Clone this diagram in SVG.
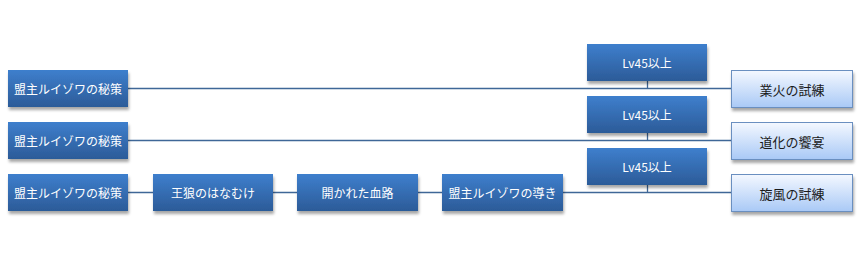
<svg xmlns="http://www.w3.org/2000/svg" width="858" height="255" viewBox="0 0 858 255">
<style>
.b{fill:url(#gb);filter:url(#sh)}
.l{fill:url(#gl);stroke:#6b8fc0;stroke-width:1;filter:url(#sh)}
.tw{fill:#ffffff;font-family:"Noto Sans CJK JP","Noto Sans",sans-serif;font-size:12px;text-anchor:middle;dominant-baseline:central}
.tk{fill:#1a1a1a;font-family:"Noto Sans CJK JP","Noto Sans",sans-serif;font-size:13px;text-anchor:middle;dominant-baseline:central}
.c{fill:none;stroke:#3f6797;stroke-width:1.3}
</style>
<defs>
<linearGradient id="gb" x1="0" y1="0" x2="0" y2="1">
<stop offset="0" stop-color="#3e7fcd"/>
<stop offset="1" stop-color="#2c5b98"/>
</linearGradient>
<linearGradient id="gl" x1="0" y1="0" x2="0" y2="1">
<stop offset="0" stop-color="#f4f8ff"/>
<stop offset="1" stop-color="#a9c9f6"/>
</linearGradient>
<filter id="sh" x="-10%" y="-20%" width="120%" height="150%">
<feGaussianBlur in="SourceAlpha" stdDeviation="1.5"/>
<feOffset dx="1" dy="2.5" result="o"/>
<feComponentTransfer><feFuncA type="linear" slope="0.35"/></feComponentTransfer>
<feMerge><feMergeNode/><feMergeNode in="SourceGraphic"/></feMerge>
</filter>
</defs>
<g id="connectors">
<path class="c" d="M128 88.5H731"/>
<path class="c" d="M647.5 81V88.5"/>
<path class="c" d="M128 140.5H731"/>
<path class="c" d="M647.5 133V140.5"/>
<path class="c" d="M128 192.5H731"/>
<path class="c" d="M647.5 185V192.5"/>
</g>
<g id="n1"><rect class="b" x="8" y="70" width="120" height="37"/><text class="tw" x="68" y="88.5">盟主ルイゾワの秘策</text></g>
<g id="n2"><rect class="b" x="8" y="122" width="120" height="37"/><text class="tw" x="68" y="140.5">盟主ルイゾワの秘策</text></g>
<g id="n3"><rect class="b" x="8" y="174" width="120" height="37"/><text class="tw" x="68" y="192.5">盟主ルイゾワの秘策</text></g>
<g id="n4"><rect class="b" x="153" y="174" width="120" height="37"/><text class="tw" x="213" y="192.5">王狼のはなむけ</text></g>
<g id="n5"><rect class="b" x="297" y="174" width="121" height="37"/><text class="tw" x="357.5" y="192.5">開かれた血路</text></g>
<g id="n6"><rect class="b" x="442" y="174" width="121" height="37"/><text class="tw" x="502.5" y="192.5">盟主ルイゾワの導き</text></g>
<g id="n7"><rect class="b" x="587" y="44" width="120" height="37"/><text class="tw" x="647" y="62.5">Lv45以上</text></g>
<g id="n8"><rect class="b" x="587" y="96" width="120" height="37"/><text class="tw" x="647" y="114.5">Lv45以上</text></g>
<g id="n9"><rect class="b" x="587" y="148" width="120" height="37"/><text class="tw" x="647" y="166.5">Lv45以上</text></g>
<g id="n10"><rect class="l" x="731.5" y="70.5" width="121" height="37"/><text class="tk" x="792" y="89">業火の試練</text></g>
<g id="n11"><rect class="l" x="731.5" y="122.5" width="121" height="37"/><text class="tk" x="792" y="141">道化の饗宴</text></g>
<g id="n12"><rect class="l" x="731.5" y="174.5" width="121" height="37"/><text class="tk" x="792" y="193">旋風の試練</text></g>
</svg>
